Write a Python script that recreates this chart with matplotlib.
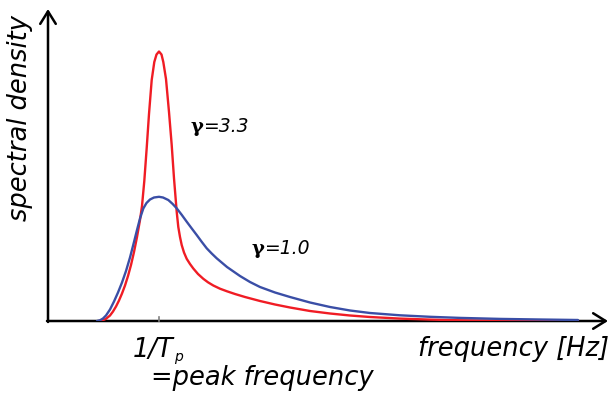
import matplotlib
matplotlib.use("Agg")
import matplotlib.pyplot as plt
from matplotlib.patches import FancyArrowPatch

# JONSWAP-type spectra: frequency [Hz] and spectral density [m^2/Hz]
freq_gamma33 = [0.051, 0.055, 0.058, 0.062, 0.065, 0.068, 0.071, 0.074, 0.077, 0.080,
                0.083, 0.086, 0.089, 0.092, 0.094, 0.0963, 0.0987, 0.101, 0.1037, 0.1063,
                0.1085, 0.111, 0.1135, 0.1153, 0.118, 0.121, 0.1237, 0.126, 0.1287, 0.1303,
                0.132, 0.1337, 0.136, 0.1387, 0.142, 0.1453, 0.150, 0.1553, 0.160, 0.1653,
                0.172, 0.179, 0.187, 0.197, 0.212, 0.227, 0.242, 0.262, 0.282, 0.302,
                0.322, 0.352, 0.382, 0.412, 0.452, 0.530]
dens_gamma33 = [0.000, 0.008, 0.022, 0.055, 0.095, 0.145, 0.205, 0.275, 0.355, 0.450,
                0.560, 0.690, 0.840, 1.010, 1.150, 1.400, 1.730, 2.070, 2.410, 2.590,
                2.665, 2.695, 2.665, 2.590, 2.420, 2.090, 1.760, 1.427, 1.093, 0.940,
                0.840, 0.760, 0.685, 0.622, 0.570, 0.525, 0.470, 0.422, 0.387, 0.355,
                0.323, 0.297, 0.270, 0.240, 0.200, 0.165, 0.135, 0.100, 0.075, 0.055,
                0.040, 0.024, 0.014, 0.007, 0.002, 0.000]

freq_gamma10 = [0.049, 0.052, 0.055, 0.058, 0.062, 0.066, 0.070, 0.074, 0.078, 0.082,
                0.086, 0.089, 0.092, 0.0953, 0.0985, 0.102, 0.106, 0.111, 0.115, 0.1203,
                0.1245, 0.1287, 0.1337, 0.1387, 0.1437, 0.1487, 0.1537, 0.1587, 0.1637, 0.1687,
                0.179, 0.192, 0.202, 0.212, 0.227, 0.242, 0.262, 0.282, 0.302, 0.322,
                0.352, 0.382, 0.412, 0.452, 0.492, 0.530]
dens_gamma10 = [0.000, 0.007, 0.025, 0.055, 0.115, 0.195, 0.285, 0.385, 0.500, 0.635,
                0.790, 0.910, 1.025, 1.125, 1.180, 1.215, 1.235, 1.242, 1.235, 1.210,
                1.172, 1.127, 1.062, 0.993, 0.926, 0.860, 0.792, 0.727, 0.675, 0.627,
                0.540, 0.450, 0.390, 0.340, 0.285, 0.240, 0.185, 0.140, 0.105, 0.080,
                0.057, 0.042, 0.031, 0.021, 0.015, 0.010]

peak_freq = 0.111
curve_labels = ["3.3", "1.0"]

W, H = 613, 394
fig = plt.figure(figsize=(W / 100, H / 100), dpi=100)


def fx(px):
    return px / W


def fy(py):
    return 1 - py / H


x0, x1, y0, y1 = 48, 600, 321, 14
ax = fig.add_axes([fx(x0), fy(y0), (x1 - x0) / W, (y0 - y1) / H])
ax.set_xlim(0, (x1 - x0) / 1000)
ax.set_ylim(0, (y0 - y1) / 100)
ax.axis("off")

ax.plot(freq_gamma33, dens_gamma33, color="#f01c24", lw=1.7,
        solid_capstyle="round", solid_joinstyle="round", zorder=3)
ax.plot(freq_gamma10, dens_gamma10, color="#3a4ea6", lw=1.7,
        solid_capstyle="round", solid_joinstyle="round", zorder=4)

# coordinate axes with open arrow heads, drawn beneath the curves
arrow = dict(arrowstyle="->,head_length=0.45,head_width=0.28", lw=1.8, color="black",
             mutation_scale=20, shrinkA=0, shrinkB=0, transform=fig.transFigure, zorder=-1)
fig.patches.append(FancyArrowPatch((fx(47), fy(y0)), (fx(608), fy(y0)), **arrow))
fig.patches.append(FancyArrowPatch((fx(x0), fy(322)), (fx(x0), fy(9)), **arrow))

# small tick at the peak frequency
ax.plot([peak_freq, peak_freq], [0, 0.04], color="#808080", lw=1.2, zorder=2, clip_on=False)

txt = dict(family="DejaVu Sans", style="italic", color="black")
fig.text(fx(20), fy(118), "spectral density", rotation=90, ha="center", va="center",
         fontsize=18.5, **txt)
fig.text(fx(609), fy(349), "frequency [Hz]", ha="right", va="center", fontsize=18.5, **txt)
fig.text(fx(133), fy(357), "1/T", ha="left", va="baseline", fontsize=18.5, **txt)
fig.text(fx(174), fy(361), "p", ha="left", va="baseline", fontsize=10, **txt)
fig.text(fx(262), fy(385), "=peak frequency", ha="center", va="baseline", fontsize=18.5, **txt)

gamma_pos = [(191, 132), (252, 254)]
for (px, py), lab in zip(gamma_pos, curve_labels):
    fig.text(fx(px), fy(py), "γ", family="DejaVu Serif", fontweight="bold", fontsize=14,
             ha="left", va="baseline", color="black")
    fig.text(fx(px + 12), fy(py), "=" + lab, ha="left", va="baseline", fontsize=13.5, **txt)

fig.savefig("out.png", dpi=100, facecolor="white")
